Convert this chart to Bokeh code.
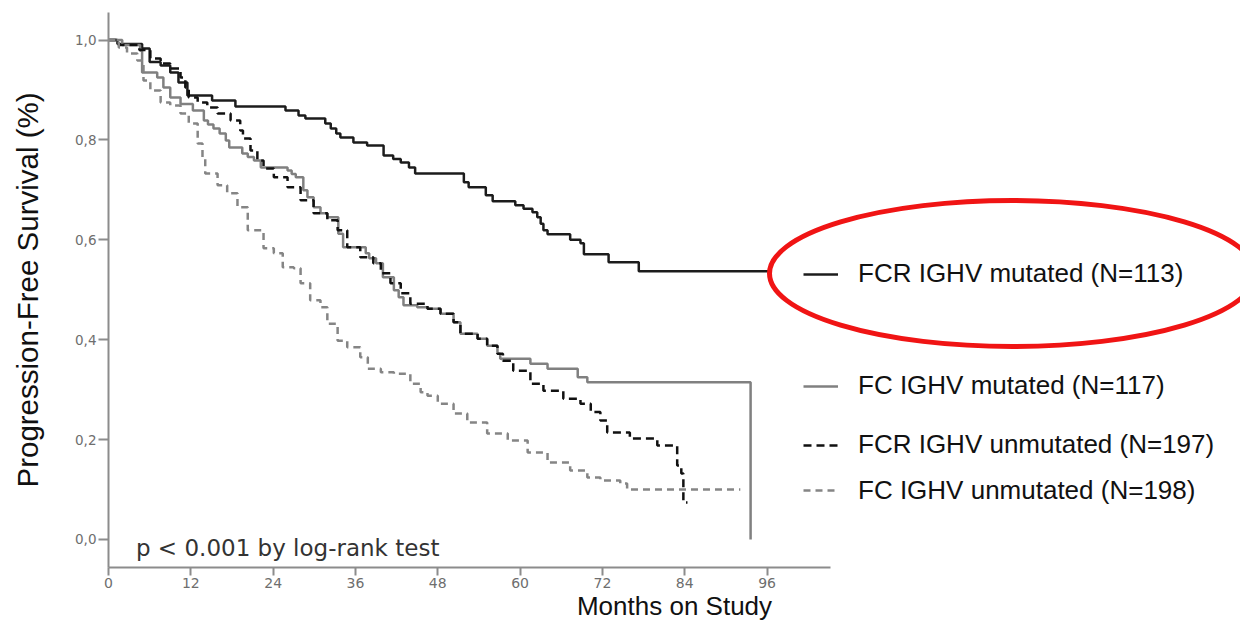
from bokeh.plotting import figure
from bokeh.models import (Range1d, FixedTicker, CustomJSTickFormatter, Legend,
                          LegendItem, Label)
from bokeh.embed import file_html
from bokeh.resources import INLINE

# ---------------- data ----------------
x_ticks = [0, 12, 24, 36, 48, 60, 72, 84, 96]
y_ticks = [0.0, 0.2, 0.4, 0.6, 0.8, 1.0]

labels = ["FCR IGHV mutated (N=113)", "FC IGHV mutated (N=117)",
          "FCR IGHV unmutated (N=197)", "FC IGHV unmutated (N=198)"]

fcr_mut_t = [0, 1.3, 4.9, 6.0, 7.6, 9.0, 10.2, 11.5, 15.1, 18.5, 25.8, 27.7, 28.7,
             31.6, 32.4, 33.2, 33.8, 35.7, 37.7, 40.1, 41.5, 42.6, 43.8, 44.7, 51.8,
             52.5, 55.0, 56.0, 59.3, 60.5, 61.8, 62.5, 63.0, 63.4, 64.0, 67.3, 68.8,
             69.3, 72.9, 77.3, 96.2]
fcr_mut_s = [1.0, 0.992, 0.983, 0.956, 0.949, 0.935, 0.915, 0.889, 0.879, 0.867, 0.859,
             0.849, 0.843, 0.833, 0.823, 0.813, 0.805, 0.795, 0.789, 0.769, 0.762, 0.755,
             0.745, 0.733, 0.715, 0.705, 0.689, 0.677, 0.669, 0.662, 0.655, 0.645, 0.632,
             0.619, 0.611, 0.600, 0.593, 0.571, 0.555, 0.537, 0.537]

fc_mut_t = [0, 2.0, 4.6, 4.9, 7.1, 8.0, 9.0, 10.5, 12.3, 13.9, 14.5, 15.3, 16.2, 17.1,
            17.6, 19.5, 20.3, 21.2, 22.2, 26.1, 26.7, 27.3, 28.4, 29.0, 29.9, 30.9, 31.9,
            33.5, 34.2, 37.5, 38.0, 39.0, 40.0, 41.6, 42.3, 43.0, 45.0, 46.5, 48.4, 50.3,
            51.3, 53.8, 55.2, 56.7, 57.1, 61.5, 64.0, 68.4, 69.8, 93.6]
fc_mut_s = [1.0, 0.99, 0.979, 0.935, 0.925, 0.905, 0.885, 0.872, 0.859, 0.839, 0.831,
            0.823, 0.813, 0.799, 0.785, 0.773, 0.766, 0.759, 0.745, 0.739, 0.732, 0.725,
            0.699, 0.685, 0.665, 0.653, 0.645, 0.612, 0.585, 0.573, 0.563, 0.553, 0.525,
            0.499, 0.485, 0.469, 0.465, 0.462, 0.452, 0.435, 0.412, 0.402, 0.388, 0.372,
            0.362, 0.352, 0.342, 0.325, 0.315, 0.0]

fcr_unm_t = [0, 1.5, 4.5, 6.1, 7.6, 9.0, 10.5, 11.2, 11.7, 13.0, 14.4, 15.9, 17.8, 19.2,
             19.6, 20.7, 21.7, 22.6, 24.1, 26.1, 28.0, 29.9, 31.9, 33.4, 34.8, 36.7, 38.6,
             39.7, 41.1, 42.6, 44.0, 46.5, 48.4, 50.3, 51.3, 53.8, 55.2, 56.7, 57.5, 59.0,
             61.5, 63.4, 66.3, 68.8, 70.3, 71.7, 72.7, 76.0, 80.0, 82.9, 83.5, 83.8, 84.4]
fcr_unm_s = [1.0, 0.99, 0.98, 0.963, 0.953, 0.943, 0.925, 0.905, 0.885, 0.875, 0.865,
             0.853, 0.839, 0.819, 0.803, 0.779, 0.759, 0.743, 0.725, 0.705, 0.679, 0.653,
             0.639, 0.619, 0.585, 0.565, 0.553, 0.533, 0.513, 0.493, 0.472, 0.462, 0.452,
             0.435, 0.412, 0.402, 0.388, 0.372, 0.358, 0.338, 0.312, 0.298, 0.282, 0.272,
             0.255, 0.238, 0.214, 0.202, 0.188, 0.148, 0.132, 0.074, 0.074]

fc_unm_t = [0, 1.5, 2.7, 4.2, 5.1, 6.1, 7.6, 9.0, 10.5, 11.7, 13.0, 13.7, 14.1, 15.9,
            17.3, 18.8, 20.3, 22.6, 24.1, 25.4, 27.0, 28.0, 29.4, 30.9, 31.9, 33.4, 34.8,
            36.7, 37.8, 39.7, 41.6, 44.0, 45.5, 46.5, 48.0, 50.3, 52.3, 55.2, 58.2, 61.1,
            64.0, 67.3, 69.8, 71.7, 74.6, 75.6, 92.1]
fc_unm_s = [1.0, 0.985, 0.973, 0.959, 0.919, 0.899, 0.875, 0.869, 0.853, 0.833, 0.793,
            0.765, 0.733, 0.709, 0.693, 0.665, 0.619, 0.583, 0.573, 0.545, 0.543, 0.513,
            0.479, 0.465, 0.432, 0.398, 0.385, 0.365, 0.342, 0.335, 0.332, 0.312, 0.295,
            0.288, 0.272, 0.252, 0.234, 0.212, 0.198, 0.174, 0.154, 0.138, 0.124, 0.118,
            0.112, 0.100, 0.100]

p_text = "p < 0.001  by log-rank test"
x_title = "Months on Study"
y_title = "Progression-Free Survival (%)"

# ---------------- layout ----------------
W, H = 1240, 624
BL, BT, FRAME_BOTTOM = 108, 12, 567
BB = H - FRAME_BOTTOM
PX_PER_MONTH = 6.86
frame_w = W - BL
y0, y1 = -0.0561, 1.0551

p = figure(width=W, height=H, output_backend="svg", toolbar_location=None,
           x_range=Range1d(0, frame_w / PX_PER_MONTH), y_range=Range1d(y0, y1),
           min_border_left=BL, min_border_right=0, min_border_top=BT,
           min_border_bottom=BB)
p.outline_line_color = None
p.grid.visible = False
p.background_fill_color = "white"
p.border_fill_color = "white"

axis_col = "#8c8c8c"
tick_col = "#6e6e6e"

xa = p.xaxis[0]
xa.bounds = (0, 105.2)
xa.ticker = FixedTicker(ticks=x_ticks)
xa.minor_tick_line_color = None
xa.axis_line_color = axis_col
xa.axis_line_width = 2
xa.major_tick_line_color = axis_col
xa.major_tick_line_width = 2
xa.major_tick_in = 0
xa.major_tick_out = 8
xa.major_label_standoff = 2
xa.major_label_text_font = "DejaVu Sans"
xa.major_label_text_font_size = "14px"
xa.major_label_text_color = tick_col
xa.axis_label = x_title
xa.axis_label_text_font = "Liberation Sans"
xa.axis_label_text_font_size = "26px"
xa.axis_label_text_font_style = "normal"
xa.axis_label_text_color = "#111111"
xa.axis_label_standoff = 0

ya = p.yaxis[0]
ya.ticker = FixedTicker(ticks=y_ticks)
ya.formatter = CustomJSTickFormatter(code="return tick.toFixed(1).replace('.', ',');")
ya.minor_tick_line_color = None
ya.axis_line_color = axis_col
ya.axis_line_width = 2
ya.major_tick_line_color = axis_col
ya.major_tick_line_width = 2
ya.major_tick_in = 0
ya.major_tick_out = 10
ya.major_label_standoff = 2
ya.major_label_text_font = "DejaVu Sans"
ya.major_label_text_font_size = "13.5px"
ya.major_label_text_color = tick_col
ya.axis_label = y_title
ya.axis_label_text_font = "Liberation Sans"
ya.axis_label_text_font_size = "29.5px"
ya.axis_label_text_font_style = "normal"
ya.axis_label_text_color = "#111111"
ya.axis_label_standoff = 28

# ---------------- curves ----------------
r1 = p.step(fcr_mut_t, fcr_mut_s, mode="after", line_color="#1c1c1c", line_width=2.5)
r2 = p.step(fc_mut_t, fc_mut_s, mode="after", line_color="#808080", line_width=2.5)
r3 = p.step(fcr_unm_t, fcr_unm_s, mode="after", line_color="#111111", line_width=2.5,
            line_dash="8 5")
r4 = p.step(fc_unm_t, fc_unm_s, mode="after", line_color="#858585", line_width=2.5,
            line_dash="7 5")

# ---------------- p-value note ----------------
p.add_layout(Label(x=4.0, y=-0.018, text=p_text, text_font="DejaVu Sans",
                   text_font_size="23px", text_color="#333333",
                   text_baseline="alphabetic"))

# ---------------- legends (one per entry, uneven spacing as in the reference) ----------------
leg_row_y = [274, 386, 445, 490.5]     # picture rows of the legend entries
ROW_H = 30
for r, lab, ty in zip([r1, r2, r3, r4], labels, leg_row_y):
    leg = Legend(items=[LegendItem(label=lab, renderers=[r])],
                 location=(695, FRAME_BOTTOM - ty - ROW_H / 2),
                 padding=0, margin=0, spacing=0, border_line_color=None,
                 background_fill_alpha=0, glyph_width=35, glyph_height=14,
                 label_height=ROW_H, label_standoff=20,
                 label_text_font="Liberation Sans",
                 label_text_font_size="26px", label_text_color="#111111")
    p.add_layout(leg)

# ---------------- red highlight ellipse ----------------
ell_cx = (1012 - BL) / PX_PER_MONTH
ell_cy = (539 - 273) / 499.5
p.ellipse(x=[ell_cx], y=[ell_cy], width=486, height=146, width_units="screen",
          height_units="screen", fill_alpha=0, line_color="#f01414", line_width=5)

open("out.html", "w").write(file_html(p, INLINE))
